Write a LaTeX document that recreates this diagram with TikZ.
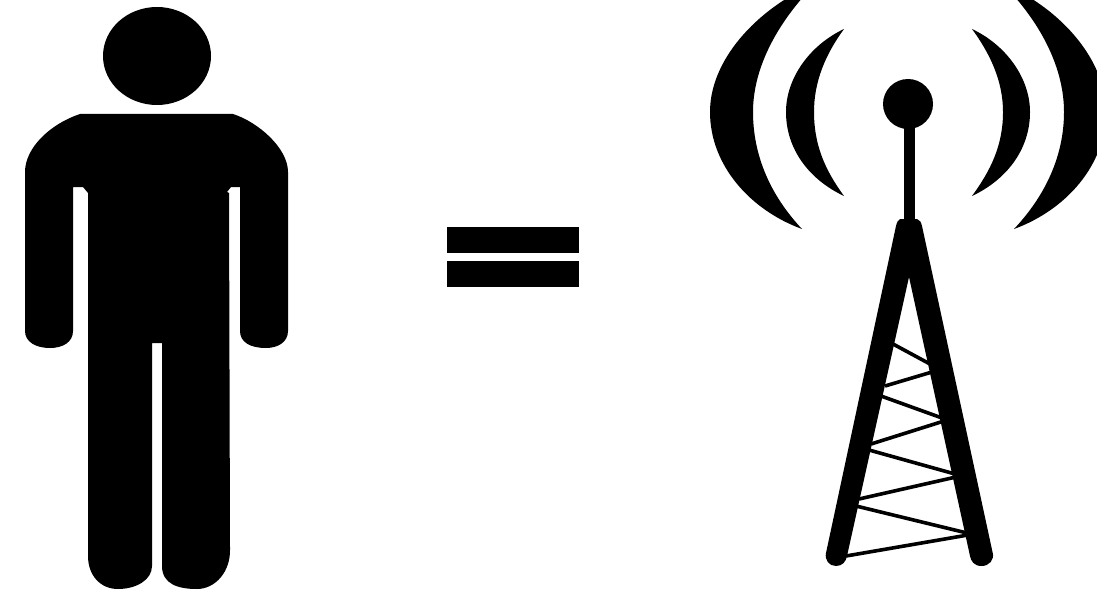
\documentclass[tikz,border=0pt]{standalone}
\tikzset{
  ink/.style={fill=black,draw=none},
  strut/.style={draw=black,line width=3.6pt}
}
\begin{document}
\begin{tikzpicture}[x=1pt,y=-1pt]
\useasboundingbox (0,0) rectangle (1097,591);
\clip (0,0) rectangle (1097,591);
% person
\fill[ink] (157,56) ellipse [x radius=54,y radius=49];
\fill[ink] (80,114) -- (233,114)
  .. controls (258,122) and (288,148) .. (288,172)
  -- (288,331) .. controls (288,342) and (278,348) .. (266,348)
  .. controls (250,348) and (240,342) .. (240,331)
  -- (240,187) -- (231,187) -- (227,192) -- (229,193) -- (230,548)
  .. controls (231,572) and (215,589) .. (197,589)
  .. controls (178,589) and (162,584) .. (162,566)
  -- (162,343) -- (152,343) -- (152,566)
  .. controls (152,580) and (136,589) .. (118,589)
  .. controls (100,589) and (88,575) .. (88,556)
  -- (88,193) -- (83,187) -- (73,187)
  -- (73,331) .. controls (73,342) and (63,348) .. (50,348)
  .. controls (36,348) and (25,342) .. (25,331)
  -- (25,172) .. controls (25,148) and (50,124) .. (80,114) -- cycle;
% equals sign
\fill[ink] (447,227) rectangle (579,253);
\fill[ink] (447,261) rectangle (579,287);
% antenna
\fill[ink] (908,104) circle [radius=25];
\fill[ink] (904,120) rectangle (915,226);
% struts
\draw[strut] (893,344) -- (930,364);
\draw[strut] (885,386) -- (932,372);
\draw[strut] (881,396) -- (942,418);
\draw[strut] (871,444) -- (944,421);
\draw[strut] (869,450) -- (955,474);
\draw[strut] (859,499) -- (956,477);
\draw[strut] (856,506) -- (967,533);
\draw[strut] (846,556) -- (968,535);
% tower legs
\fill[ink] (900,219) -- (917,219) .. controls (920,220) and (921,222) .. (922,226)
  -- (992.5,552) .. controls (995,560) and (989,566) .. (981.5,566)
  .. controls (974,566) and (971,561) .. (970,556)
  -- (909,277)
  -- (847,556) .. controls (846,562) and (842,566) .. (836,566)
  .. controls (829,566) and (824.5,560) .. (826,553)
  -- (896,226) .. controls (897,222) and (898,220) .. (900,219) -- cycle;
% waves: left
\fill[ink] (815,-16) .. controls (765,4) and (710,55) .. (710,112)
  .. controls (710,165) and (750,210) .. (802,229)
  .. controls (770,195) and (753,155) .. (753,112)
  .. controls (753,70) and (775,25) .. (815,-16) -- cycle;
\fill[ink] (844,29) .. controls (810,45) and (786,78) .. (786,112)
  .. controls (786,150) and (810,180) .. (844,196)
  .. controls (825,170) and (814,145) .. (814,112)
  .. controls (814,82) and (825,55) .. (844,29) -- cycle;
% waves: right
\fill[ink] (1003,-16) .. controls (1053,4) and (1106,55) .. (1106,112)
  .. controls (1106,165) and (1066,210) .. (1014,229)
  .. controls (1046,195) and (1064,155) .. (1064,112)
  .. controls (1064,70) and (1043,25) .. (1003,-16) -- cycle;
\fill[ink] (972,29) .. controls (1006,45) and (1030,78) .. (1030,112)
  .. controls (1030,150) and (1006,180) .. (972,196)
  .. controls (991,170) and (1003,145) .. (1003,112)
  .. controls (1003,82) and (991,55) .. (972,29) -- cycle;
\end{tikzpicture}
\end{document}
